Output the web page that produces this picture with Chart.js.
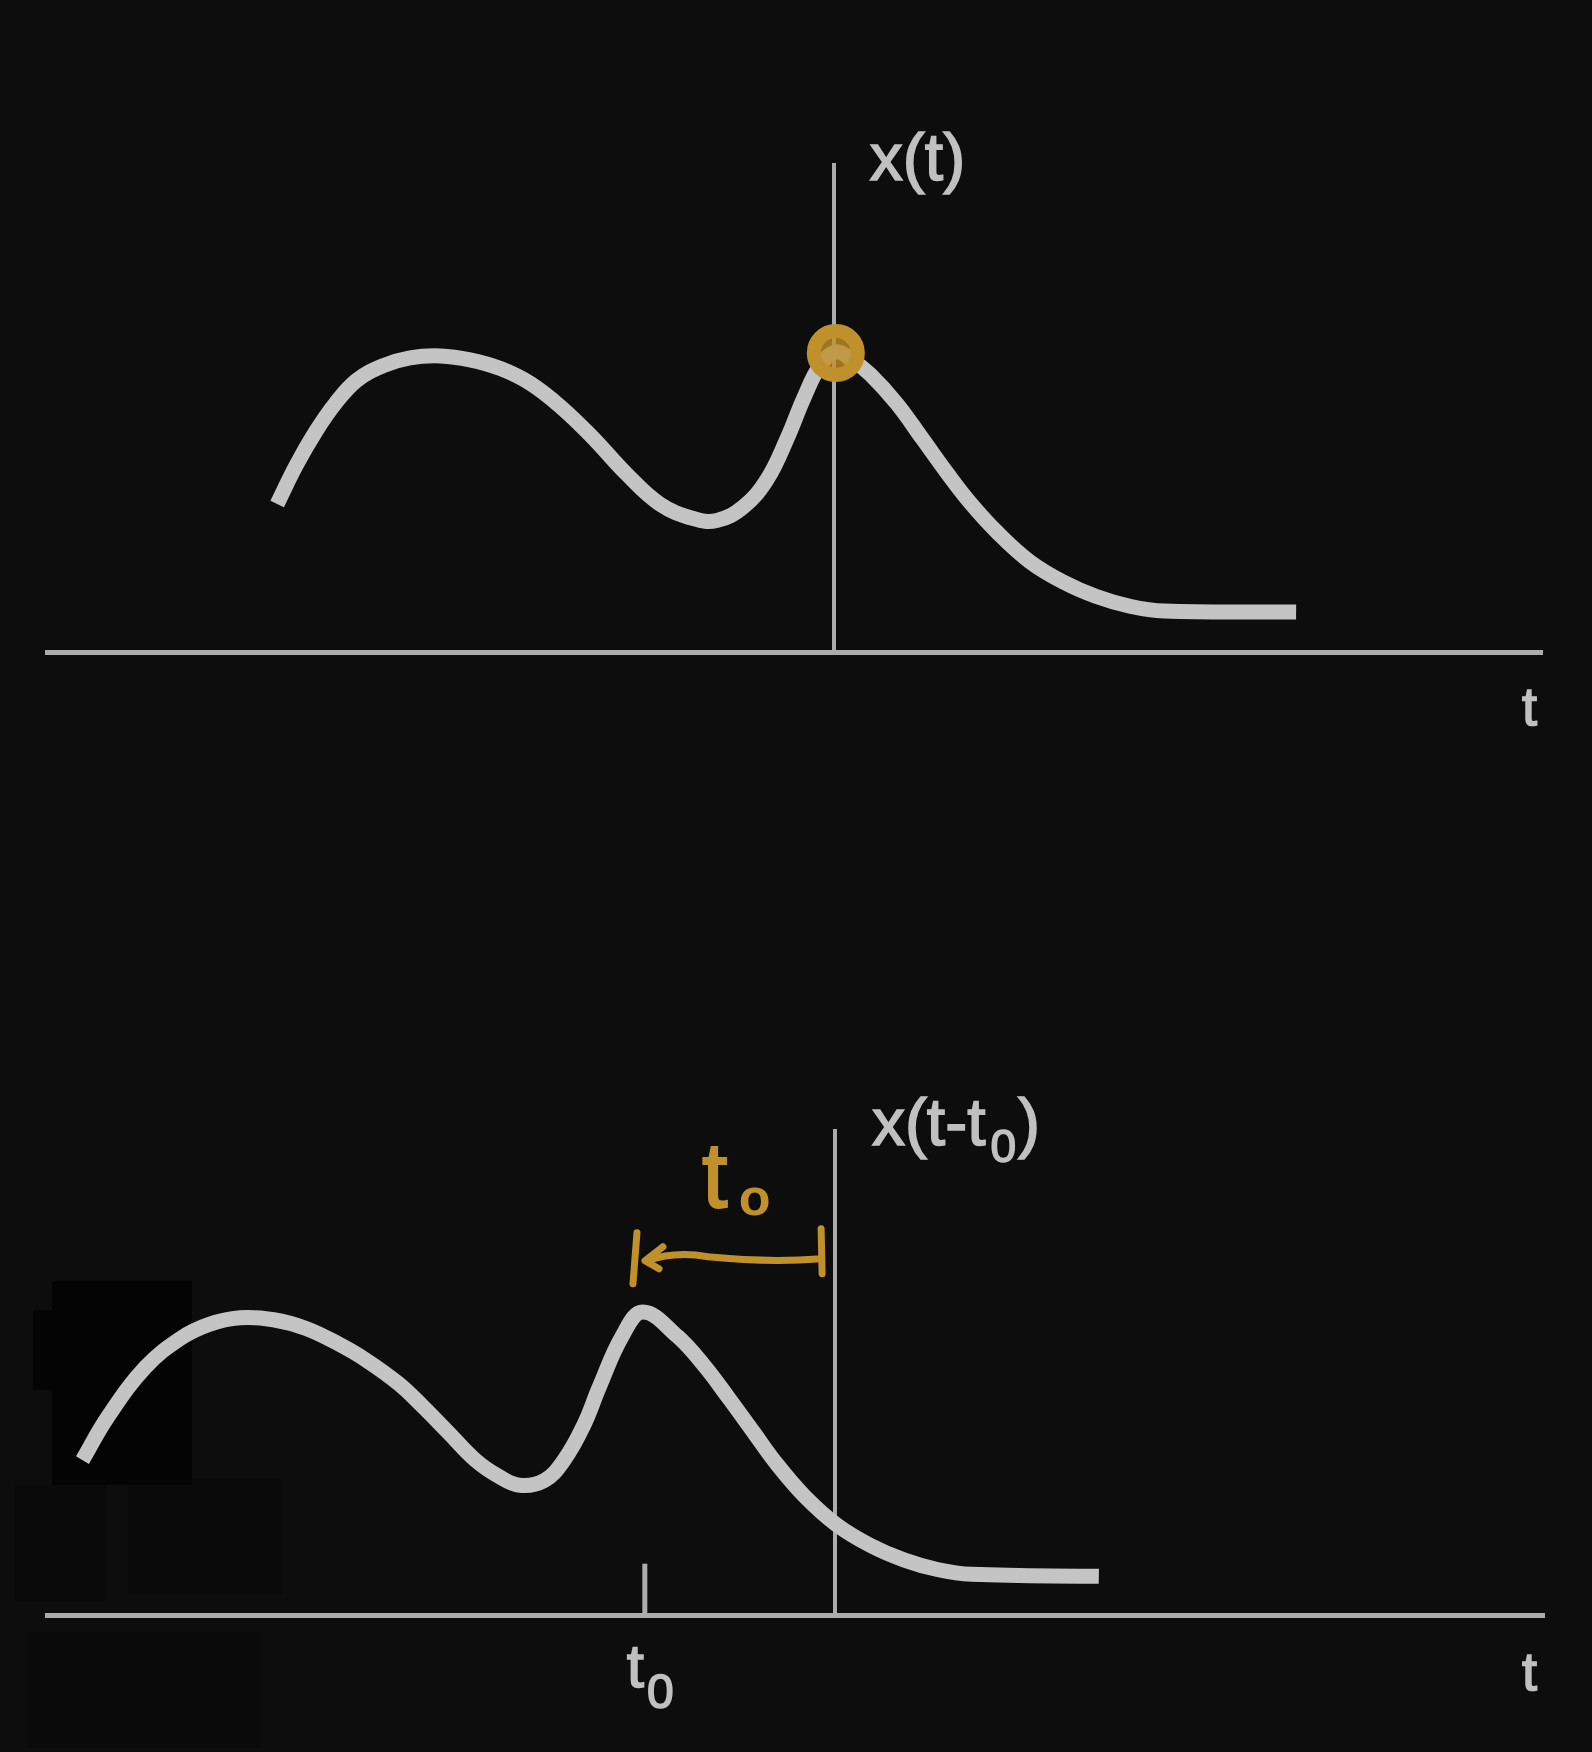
<!DOCTYPE html>
<html>
<head>
<meta charset="utf-8">
<script src="https://cdn.jsdelivr.net/npm/chart.js@4.4.1/dist/chart.umd.min.js"></script>
<style>
  html, body { margin: 0; padding: 0; background: #0d0d0d; width: 1592px; height: 1752px; overflow: hidden; }
  .panel { position: absolute; left: 0; width: 1592px; height: 876px; }
  .smudge { position: absolute; }
</style>
</head>
<body>
<div class="smudge" style="left:15px;top:1485px;width:92px;height:116px;background:#0a0a0a"></div>
<div class="smudge" style="left:128px;top:1479px;width:155px;height:115px;background:#0a0a0a"></div>
<div class="smudge" style="left:28px;top:1632px;width:232px;height:116px;background:#0a0a0a"></div>
<div class="smudge" style="left:52px;top:1281px;width:140px;height:204px;background:#040404"></div>
<div class="smudge" style="left:33px;top:1310px;width:90px;height:80px;background:#040404"></div>
<div class="panel" style="top:0"><canvas id="chartTop"></canvas></div>
<div class="panel" style="top:876px"><canvas id="chartBottom"></canvas></div>
<script>
// x(t)
const tTop = [-5.66, -5.47, -5.27, -5.07, -4.85, -4.58, -4.31, -4.00, -3.70, -3.39, -3.09, -2.78, -2.45, -2.11, -1.77, -1.43, -1.19, -0.92, -0.68, -0.48, -0.30, -0.14, 0.02, 0.18, 0.37, 0.64, 0.90, 1.15, 1.38, 1.66, 1.99, 2.33, 2.67, 3.01, 3.36, 4.70];
const xTop = [1.52, 1.91, 2.26, 2.55, 2.79, 2.94, 3.02, 3.04, 3.00, 2.91, 2.76, 2.52, 2.20, 1.83, 1.52, 1.37, 1.35, 1.49, 1.77, 2.18, 2.62, 2.94, 3.08, 3.00, 2.85, 2.55, 2.19, 1.84, 1.54, 1.23, 0.93, 0.72, 0.57, 0.47, 0.42, 0.41];

// x(t - t0)
const tBottom = [-7.64, -7.38, -7.00, -6.64, -6.36, -6.04, -5.70, -5.37, -5.04, -4.77, -4.43, -4.18, -3.92, -3.65, -3.41, -3.20, -2.95, -2.75, -2.55, -2.39, -2.16, -1.95, -1.60, -1.33, -1.07, -0.82, -0.59, -0.31, 0.02, 0.36, 0.70, 1.04, 1.39, 2.68];
const xBottom = [1.60, 2.05, 2.56, 2.86, 3.00, 3.07, 3.05, 2.96, 2.80, 2.64, 2.39, 2.15, 1.88, 1.60, 1.43, 1.34, 1.39, 1.60, 1.96, 2.36, 2.88, 3.13, 2.88, 2.58, 2.23, 1.88, 1.56, 1.23, 0.93, 0.72, 0.57, 0.47, 0.42, 0.40];

const t0 = 1.93;
const tickHeight = [0, 0.53];
const tRange = [-8, 7.2];
const xRange = [0, 5];

// hand-drawn marks (data units)
const circleMark = { t: 0.02, x: 3.07 };
const shiftSpan = [-2.03, -0.14];
const shiftLevel = 3.68;
const handLabelPos = { t: -1.22, x: 4.22 };

const curveGray = '#c4c4c4';
const axisGray = '#acacac';
const textGray = '#c0c0c0';
const gold = '#c0902b';
const font = '"Liberation Sans", Arial, sans-serif';

function toPoints(ts, xs) {
  return ts.map((t, i) => ({ x: t, y: xs[i] }));
}

function baseScales() {
  return {
    x: {
      type: 'linear', min: tRange[0], max: tRange[1],
      grid: { display: false, drawTicks: false, tickLength: 0 },
      ticks: { display: false },
      border: { display: true, color: axisGray, width: 5 }
    },
    y: {
      type: 'linear', min: xRange[0], max: xRange[1],
      position: { x: 0 },
      grid: { display: false, drawTicks: false, tickLength: 0 },
      ticks: { display: false },
      border: { display: true, color: axisGray, width: 4 }
    }
  };
}

// text in pieces (for subscripts), slightly stroked to look heavier
function drawRuns(ctx, x, y, runs) {
  let cx = x;
  runs.forEach(([text, size, dy, gap]) => {
    cx += gap || 0;
    ctx.font = size + 'px ' + font;
    ctx.fillText(text, cx, y + dy);
    ctx.strokeText(text, cx, y + dy);
    cx += ctx.measureText(text).width;
  });
}

const topLabels = {
  id: 'topLabels',
  afterDraw(chart) {
    const { ctx, chartArea, scales } = chart;
    const x0 = scales.x.getPixelForValue(0);
    ctx.save();
    ctx.fillStyle = textGray;
    ctx.strokeStyle = textGray;
    ctx.lineWidth = 1.6;
    ctx.textBaseline = 'alphabetic';
    ctx.textAlign = 'left';
    drawRuns(ctx, x0 + 36, chartArea.top + 15, [['x(t)', 66, 0]]);
    drawRuns(ctx, chartArea.right - 20, chartArea.bottom + 73, [['t', 54, 0]]);
    ctx.restore();
  }
};

const bottomLabels = {
  id: 'bottomLabels',
  afterDraw(chart) {
    const { ctx, chartArea, scales } = chart;
    const x0 = scales.x.getPixelForValue(0);
    const xs = scales.x.getPixelForValue(-t0);
    ctx.save();
    ctx.fillStyle = textGray;
    ctx.strokeStyle = textGray;
    ctx.lineWidth = 1.6;
    ctx.textBaseline = 'alphabetic';
    ctx.textAlign = 'left';
    drawRuns(ctx, x0 + 37, chartArea.top + 14, [['x(t-t', 66, 0], ['0', 46, 17, 5], [')', 66, 0, 2]]);
    drawRuns(ctx, chartArea.right - 22, chartArea.bottom + 75, [['t', 54, 0]]);
    drawRuns(ctx, xs - 18, chartArea.bottom + 72, [['t', 62, 0], ['0', 48, 21, 3]]);

    // hand-written shift annotation
    const px = v => scales.x.getPixelForValue(v);
    const py = v => scales.y.getPixelForValue(v);
    ctx.fillStyle = gold;
    ctx.strokeStyle = gold;
    ctx.textAlign = 'center';
    ctx.font = '92px ' + font;
    const hx = px(handLabelPos.t), hy = py(handLabelPos.x);
    ctx.fillText('t', hx, hy);
    ctx.lineWidth = 2;
    ctx.strokeText('t', hx, hy);
    ctx.font = 'bold 52px ' + font;
    ctx.fillText('o', hx + 40, hy + 8);

    const l = px(shiftSpan[0]), r = px(shiftSpan[1]), m = py(shiftLevel);
    ctx.lineWidth = 7;
    ctx.lineCap = 'round';
    ctx.lineJoin = 'round';
    ctx.beginPath();
    ctx.moveTo(r, m - 30); ctx.lineTo(r + 1, m + 15);
    ctx.moveTo(l + 2, m - 26); ctx.lineTo(l - 2, m + 25);
    ctx.moveTo(r, m);
    ctx.quadraticCurveTo((l + r) / 2 + 40, m + 4, (l + r) / 2 - 20, m - 2);
    ctx.quadraticCurveTo(l + 40, m - 8, l + 12, m + 2);
    ctx.moveTo(l + 28, m - 12); ctx.lineTo(l + 10, m + 2); ctx.lineTo(l + 24, m + 10);
    ctx.stroke();
    ctx.restore();
  }
};

const common = {
  responsive: true,
  maintainAspectRatio: false,
  animation: false,
  events: [],
  plugins: { legend: { display: false }, tooltip: { enabled: false } }
};

new Chart(document.getElementById('chartTop'), {
  type: 'scatter',
  data: {
    datasets: [
      {
        data: [{ x: circleMark.t, y: circleMark.x }],
        pointRadius: 22, borderWidth: 14,
        pointBorderColor: gold, pointBackgroundColor: 'rgba(192,144,43,0.8)',
        order: 0
      },
      {
        data: toPoints(tTop, xTop),
        showLine: true, borderColor: curveGray, borderWidth: 15,
        pointRadius: 0, tension: 0.4,
        order: 1
      }
    ]
  },
  options: Object.assign({}, common, {
    layout: { padding: { left: 47, right: 50, top: 165, bottom: 224 } },
    scales: baseScales()
  }),
  plugins: [topLabels]
});

new Chart(document.getElementById('chartBottom'), {
  type: 'scatter',
  data: {
    datasets: [
      {
        data: toPoints([-t0, -t0], tickHeight),
        showLine: true, borderColor: axisGray, borderWidth: 5,
        pointRadius: 0, order: 2
      },
      {
        data: toPoints(tBottom, xBottom),
        showLine: true, borderColor: curveGray, borderWidth: 15,
        pointRadius: 0, tension: 0.4,
        order: 1
      }
    ]
  },
  options: Object.assign({}, common, {
    layout: { padding: { left: 47, right: 48, top: 255, bottom: 137 } },
    scales: baseScales()
  }),
  plugins: [bottomLabels]
});
</script>
</body>
</html>
